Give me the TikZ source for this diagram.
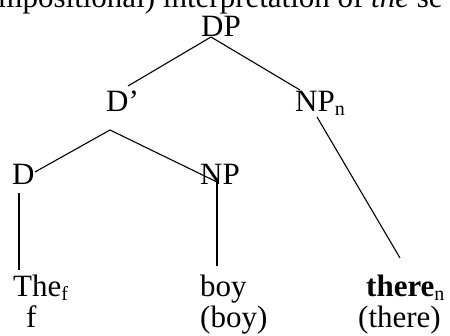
\documentclass[tikz,border=0pt]{standalone}
\usepackage{fontspec}
\setmainfont{Liberation Serif}
% lowered small index, as in the word processor
\newcommand{\idx}[1]{\raisebox{-0.12em}{\fontsize{20}{20}\selectfont #1}}

\begin{document}
\begin{tikzpicture}[x=1pt, y=-1pt,
    word/.style={anchor=base west, inner sep=0pt, font=\fontsize{31}{36}\selectfont},
    branch/.style={line width=1.1pt}]
    \useasboundingbox (0,0) rectangle (450,336);
    \clip (0,0) rectangle (450,336);

    % running text, cut off at the top
    \node[word] (caption) at (-31,8) {compositional) interpretation of \textit{the} se};

    % labels of the tree
    \node[word] (DP) at (201,37) {DP};
    \node[word] (Dbar) at (106,112) {D’};
    \node[word] (NPn) at (295,112) {NP\idx{n}};
    \node[word] (D) at (12,185) {D};
    \node[word] (NP) at (200,185) {NP};

    % words and their meanings
    \node[word] (The) at (13,297) {The\idx{f}};
    \node[word] (boy) at (200,297) {boy};
    \node[word] (there) at (366,297) {\textbf{there}\idx{n}};
    \node[word] (The-m) at (26,328) {f};
    \node[word] (boy-m) at (200,328) {(boy)};
    \node[word] (there-m) at (358,328) {(there)};

    % ends of the branches
    \coordinate (DP-root) at (211,37);
    \coordinate (Dbar-top) at (128,86);
    \coordinate (NPn-top) at (300,90);
    \coordinate (NPn-foot) at (317,117);
    \coordinate (there-top) at (400,258);
    \coordinate (Dbar-joint) at (110,130);
    \coordinate (D-top) at (35,172);
    \coordinate (NP-top) at (217,182);
    \coordinate (D-foot) at (19,193);
    \coordinate (The-top) at (19,270);
    \coordinate (boy-top) at (217,266);

    \draw[branch] (DP-root) -- (Dbar-top);
    \draw[branch] (DP-root) -- (NPn-top);
    \draw[branch] (NPn-foot) -- (there-top);
    \draw[branch] (D-top) -- (Dbar-joint) -- (NP-top);
    \draw[branch] (D-foot) -- (The-top);
    \draw[branch] (NP-top) -- (boy-top);
\end{tikzpicture}
\end{document}
